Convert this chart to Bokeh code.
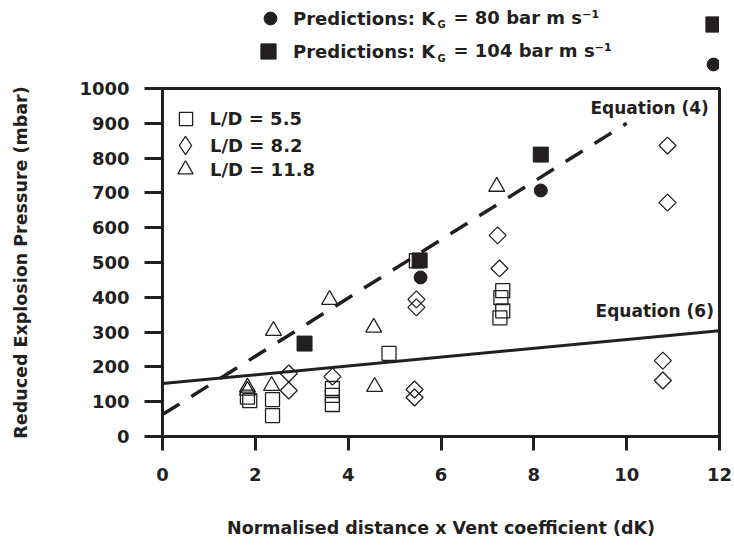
import numpy as np
from bokeh.plotting import figure
from bokeh.layouts import column
from bokeh.models import Range1d, Label, Legend, LegendItem, FixedTicker
from bokeh.embed import file_html
from bokeh.resources import INLINE

# Measured reduced explosion pressures (mbar) against dK, one series per vessel L/D
ld55_x = [1.83, 1.88, 2.37, 2.37, 3.66, 3.66, 3.66, 4.88, 5.47, 7.29, 7.33, 7.27, 7.33]
ld55_y = [113, 103, 106, 60, 138, 118, 92, 239, 505, 399, 419, 341, 361]

ld82_x = [2.72, 2.72, 3.66, 5.47, 5.47, 5.43, 5.43, 7.22, 7.26, 10.88, 10.88, 10.78, 10.78]
ld82_y = [181, 132, 172, 394, 371, 135, 112, 578, 483, 836, 672, 218, 161]

ld118_x = [1.83, 1.83, 2.35, 2.39, 3.60, 4.55, 4.57, 7.20]
ld118_y = [141, 132, 146, 304, 393, 313, 143, 718]

# Model predictions for two deflagration indices
pred80_x = [5.56, 8.15]
pred80_y = [457, 707]
pred104_x = [3.06, 5.54, 8.15]
pred104_y = [267, 506, 810]

# Correlation lines
eq4_x = [0, 10.0]
eq4_y = [63, 900]
eq6_x = [0, 12]
eq6_y = [152, 304]

x_ticks = [0, 2, 4, 6, 8, 10, 12]
y_ticks = [0, 100, 200, 300, 400, 500, 600, 700, 800, 900, 1000]

FONT = "DejaVu Sans"
INK = "#231f20"
W = 734
KEY_H = 76           # height of the strip holding the prediction key
MAIN_H = 546 - KEY_H

# ---------------------------------------------------------------- main chart
FL, FR, FT, FB = 162, 719, 12, 360   # frame edges inside the main chart

p = figure(width=W, height=MAIN_H, x_range=Range1d(0, 12), y_range=Range1d(0, 1000),
           output_backend="svg", toolbar_location=None,
           min_border_left=FL, min_border_right=W - FR,
           min_border_top=FT, min_border_bottom=MAIN_H - FB)
p.background_fill_color = "white"
p.border_fill_color = "white"
p.outline_line_color = INK
p.outline_line_width = 3
p.outline_line_alpha = 1.0
p.grid.visible = False

p.xaxis.ticker = FixedTicker(ticks=x_ticks)
p.yaxis.ticker = FixedTicker(ticks=y_ticks)
p.xaxis.axis_label = "Normalised distance x Vent coefficient (dK)"
p.yaxis.axis_label = "Reduced Explosion Pressure (mbar)"
for ax in (p.xaxis[0], p.yaxis[0]):
    ax.axis_line_color = INK
    ax.axis_line_width = 3
    ax.major_tick_line_color = INK
    ax.major_tick_line_width = 3
    ax.major_tick_in = 0
    ax.minor_tick_line_color = None
    ax.major_label_text_font = FONT
    ax.major_label_text_font_style = "bold"
    ax.major_label_text_font_size = "18px"
    ax.major_label_text_color = INK
    ax.axis_label_text_font = FONT
    ax.axis_label_text_font_style = "bold"
    ax.axis_label_text_font_size = "17.5px"
    ax.axis_label_text_color = INK
p.xaxis.major_tick_out = 14
p.xaxis.major_label_standoff = 17
p.xaxis.axis_label_standoff = 34
p.yaxis.major_tick_out = 18
p.yaxis.major_label_standoff = 15
p.yaxis.axis_label_standoff = 45

# correlation lines
p.line(eq4_x, eq4_y, line_color=INK, line_width=3.5, line_dash="20 14")
p.line(eq6_x, eq6_y, line_color=INK, line_width=3)

# experimental points (open symbols)
open_style = dict(fill_color=None, line_color=INK, line_width=1.3)
r_sq = p.scatter(ld55_x, ld55_y, marker="square", size=14, **open_style)
r_di = p.scatter(ld82_x, ld82_y, marker="square", angle=np.pi / 4, size=12, **open_style)
r_tr = p.scatter(ld118_x, ld118_y, marker="triangle", size=16, **open_style)

# predictions (filled symbols)
r_ci = p.scatter(pred80_x, pred80_y, marker="circle", size=13, fill_color=INK, line_color=INK)
r_fs = p.scatter(pred104_x, pred104_y, marker="square", size=15, fill_color=INK, line_color=INK)

# key-only glyph for the L/D = 8.2 series (an upright diamond; nothing drawn in the plot)
r_di_key = p.scatter([np.nan], [np.nan], marker="diamond", size=19, **open_style)


def add_key(fig, frame_left, frame_bottom, renderer, label, cx, cy, box, text_x=None,
            size="18px"):
    """Single-entry legend whose glyph is centred at point (cx, cy) of the figure canvas."""
    standoff = 0 if text_x is None else int(round(text_x - (cx + box / 2)))
    lg = Legend(items=[LegendItem(label=label, renderers=[renderer])],
                location=(cx - box / 2 - frame_left, frame_bottom - (cy + box / 2)),
                glyph_width=int(box), glyph_height=int(box), label_standoff=standoff,
                label_height=int(box), padding=0, margin=0, spacing=0,
                border_line_color=None, background_fill_alpha=0,
                label_text_font=FONT, label_text_font_style="bold",
                label_text_font_size=size, label_text_color=INK)
    fig.add_layout(lg)


# series key inside the frame (canvas y measured from the top of the whole page)
add_key(p, FL, FB, r_sq, "L/D = 5.5", 185, 118 - KEY_H, 33, text_x=210)
add_key(p, FL, FB, r_di_key, "L/D = 8.2", 185, 145 - KEY_H, 46, text_x=210)
add_key(p, FL, FB, r_tr, "L/D = 11.8", 185, 169 - KEY_H, 38, text_x=210)

# correlation labels
p.add_layout(Label(x=11.77, y=943, text="Equation (4)", text_font=FONT, text_font_style="bold",
                   text_font_size="17px", text_color=INK, text_align="right",
                   text_baseline="middle"))
p.add_layout(Label(x=11.88, y=362, text="Equation (6)", text_font=FONT, text_font_style="bold",
                   text_font_size="17px", text_color=INK, text_align="right",
                   text_baseline="middle"))

# ---------------------------------------------------------------- prediction key strip
# its frame shares the main chart's left/right edges (column aligns the frames)
k = figure(width=W, height=KEY_H, x_range=Range1d(0, 12), y_range=Range1d(0, 1),
           output_backend="svg", toolbar_location=None,
           x_axis_type=None, y_axis_type=None,
           min_border_left=FL, min_border_right=W - FR, min_border_top=0, min_border_bottom=0)
k.outline_line_color = None
k.grid.visible = False
k.background_fill_color = "white"
k.border_fill_color = "white"

k_ci = k.scatter([np.nan], [np.nan], marker="circle", size=13, fill_color=INK, line_color=INK)
k_fs = k.scatter([np.nan], [np.nan], marker="square", size=15, fill_color=INK, line_color=INK)


def key_text(text, X, Y, size):
    k.add_layout(Label(x=X - FL, y=KEY_H - Y, x_units="screen", y_units="screen", text=text,
                       text_font=FONT, text_font_style="bold", text_font_size=size,
                       text_color=INK, text_align="left", text_baseline="middle"))


add_key(k, FL, KEY_H, k_ci, "Predictions: K", 270, 18, 32, text_x=293)
key_text("G", 437, 24, "10px")
key_text("= 80 bar m s\u207b\u00b9", 453, 17, "18px")
add_key(k, FL, KEY_H, k_fs, "Predictions: K", 268, 51, 38, text_x=293)
key_text("G", 437, 58, "10px")
key_text("= 104 bar m s\u207b\u00b9", 453, 50, "18px")

add_key(k, FL, KEY_H, k_fs, " ", 713, 24, 38)
add_key(k, FL, KEY_H, k_ci, " ", 713, 64, 32)

layout = column(k, p, spacing=0)
open("out.html", "w").write(file_html(layout, INLINE))
